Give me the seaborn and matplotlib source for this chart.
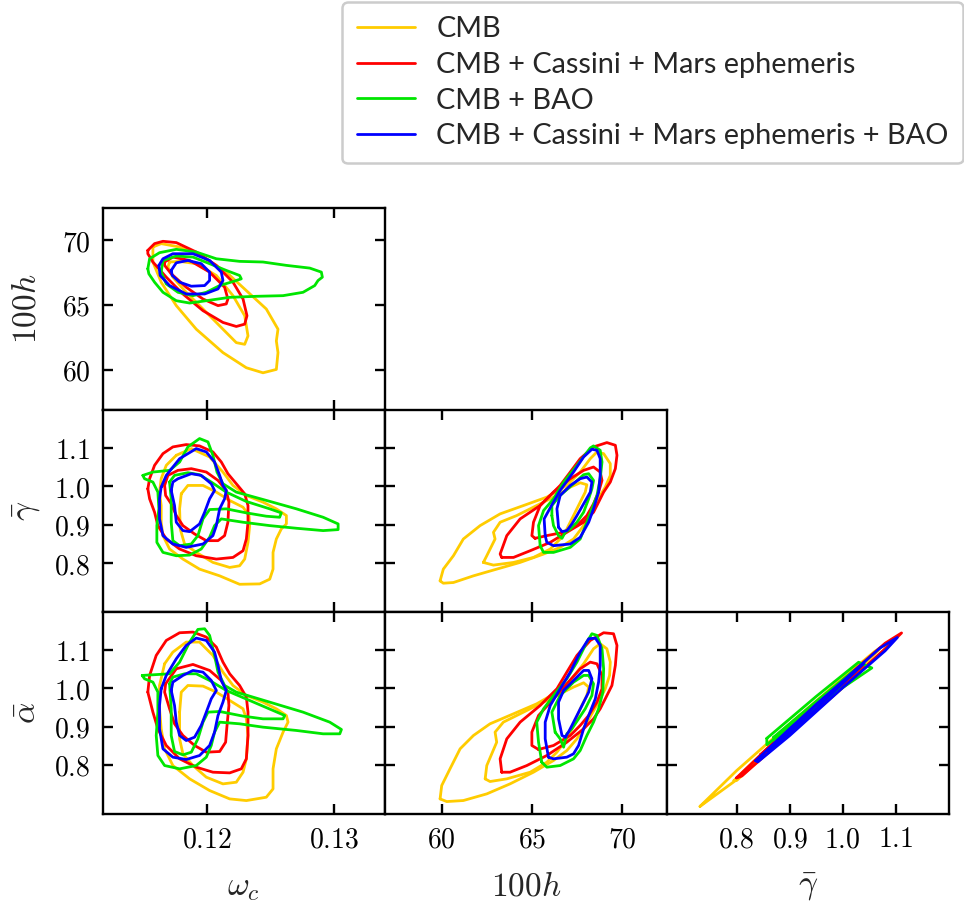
import numpy as np
import matplotlib
matplotlib.use("Agg")
import matplotlib.pyplot as plt
import seaborn as sns
from matplotlib.lines import Line2D

# ---------------- series ----------------
SERIES = ["CMB", "CMB + Cassini + Mars ephemeris", "CMB + BAO",
          "CMB + Cassini + Mars ephemeris + BAO"]
COLORS = ["#ffcc00", "#ff0000", "#00e600", "#0000ff"]

# ---------------- ticks ----------------
wc_ticks = [0.12, 0.13]
wc_ticklabels = ["0.12", "0.13"]
h_ticks = [60, 65, 70]
h_ticklabels = ["60", "65", "70"]
g_ticks = [0.8, 0.9, 1.0, 1.1]
g_ticklabels = ["0.8", "0.9", "1.0", "1.1"]

# ============ contour outlines (68% / 95%) ============
# ---- panel omega_c vs 100h ----
wh_cmb_95 = [(0.11575, 69.48), (0.11640, 69.74), (0.11785, 69.48), (0.11969, 68.70), (0.12152, 67.54),
             (0.12310, 66.11), (0.12467, 64.69), (0.12559, 63.13), (0.12546, 62.22), (0.12559, 61.32),
             (0.12546, 60.02), (0.12441, 59.76), (0.12310, 60.15), (0.12126, 61.32), (0.11916, 63.13),
             (0.11759, 64.95), (0.11640, 66.76), (0.11575, 68.32)]
wh_cmb_68 = [(0.11706, 68.32), (0.11785, 68.37), (0.11916, 68.19), (0.12074, 67.28), (0.12205, 65.72),
             (0.12297, 64.17), (0.12323, 62.61), (0.12297, 61.96), (0.12231, 62.09), (0.12126, 63.13),
             (0.11969, 64.69), (0.11824, 66.11), (0.11732, 67.15), (0.11693, 67.93)]
wh_cas_95 = [(0.11535, 69.22), (0.11588, 69.74), (0.11654, 69.92), (0.11759, 69.82), (0.11916, 69.09),
             (0.12074, 68.06), (0.12205, 66.76), (0.12284, 65.46), (0.12315, 64.17), (0.12297, 63.52),
             (0.12231, 63.34), (0.12126, 63.65), (0.11969, 64.56), (0.11811, 65.85), (0.11680, 67.15),
             (0.11575, 68.32), (0.11535, 68.96)]
wh_cas_68 = [(0.11667, 68.32), (0.11732, 68.70), (0.11864, 68.44), (0.12021, 67.54), (0.12139, 66.37),
             (0.12165, 65.46), (0.12152, 65.08), (0.12087, 64.95), (0.11969, 65.46), (0.11837, 66.37),
             (0.11719, 67.41), (0.11667, 68.06)]
wh_bao_95 = [(0.11535, 67.80), (0.11549, 68.57), (0.11627, 69.04), (0.11759, 69.30), (0.11916, 69.09),
             (0.12074, 68.57), (0.12257, 68.37), (0.12441, 68.32), (0.12625, 68.06), (0.12809, 67.85),
             (0.12900, 67.54), (0.12908, 67.15), (0.12874, 66.89), (0.12848, 66.50), (0.12756, 65.98),
             (0.12599, 65.72), (0.12389, 65.67), (0.12179, 65.59), (0.11995, 65.33), (0.11864, 65.15),
             (0.11759, 65.33), (0.11654, 65.98), (0.11588, 66.76), (0.11543, 67.41)]
wh_bao_68 = [(0.11654, 68.44), (0.11759, 68.78), (0.11890, 68.70), (0.12021, 68.19), (0.12152, 67.67),
             (0.12257, 67.28), (0.12270, 67.02), (0.12205, 66.81), (0.12100, 66.50), (0.11995, 65.98),
             (0.11890, 65.72), (0.11772, 65.98), (0.11680, 66.63), (0.11640, 67.54)]
wh_all_95 = [(0.11622, 68.06), (0.11654, 68.57), (0.11732, 68.96), (0.11890, 68.96), (0.12021, 68.44),
             (0.12113, 67.54), (0.12126, 66.89), (0.12087, 66.24), (0.11982, 65.85), (0.11837, 65.85),
             (0.11706, 66.50), (0.11632, 67.28)]
wh_all_68 = [(0.11719, 67.67), (0.11759, 68.26), (0.11850, 68.44), (0.11955, 68.19), (0.12021, 67.54),
             (0.12021, 66.89), (0.11982, 66.50), (0.11877, 66.45), (0.11785, 66.76), (0.11727, 67.28)]

# ---- panel omega_c vs gamma ----
wg_cmb_95 = [(0.11759, 1.0812), (0.11877, 1.0986), (0.12021, 1.0768), (0.12126, 1.0375), (0.12205, 1.0026),
             (0.12310, 0.9765), (0.12441, 0.9590), (0.12546, 0.9416), (0.12625, 0.9241), (0.12625, 0.9023),
             (0.12585, 0.8892), (0.12546, 0.8630), (0.12520, 0.8281), (0.12520, 0.7845), (0.12494, 0.7583),
             (0.12415, 0.7460), (0.12257, 0.7450), (0.12100, 0.7670), (0.11942, 0.7845), (0.11811, 0.8107),
             (0.11706, 0.8369), (0.11654, 0.8718), (0.11640, 0.9067), (0.11640, 0.9503), (0.11627, 0.9852),
             (0.11640, 1.0201), (0.11680, 1.0550)]
wg_cmb_68 = [(0.11798, 0.9808), (0.11850, 1.0026), (0.11969, 1.0026), (0.12074, 0.9852), (0.12179, 0.9634),
             (0.12284, 0.9459), (0.12331, 0.9241), (0.12336, 0.8979), (0.12323, 0.8543), (0.12297, 0.8107),
             (0.12257, 0.7932), (0.12179, 0.7889), (0.12047, 0.8020), (0.11916, 0.8281), (0.11824, 0.8500),
             (0.11790, 0.8892), (0.11785, 0.9416)]
wg_cas_95 = [(0.11535, 0.9939), (0.11549, 1.0201), (0.11588, 1.0550), (0.11654, 1.0855), (0.11732, 1.1030),
             (0.11837, 1.1091), (0.11942, 1.1056), (0.12047, 1.0899), (0.12113, 1.0637), (0.12165, 1.0332),
             (0.12231, 1.0070), (0.12297, 0.9808), (0.12323, 0.9503), (0.12323, 0.9067), (0.12310, 0.8630),
             (0.12284, 0.8325), (0.12205, 0.8150), (0.12074, 0.8107), (0.11916, 0.8194), (0.11785, 0.8369),
             (0.11680, 0.8630), (0.11614, 0.8979), (0.11588, 0.9328), (0.11549, 0.9677)]
wg_cas_68 = [(0.11667, 1.0026), (0.11693, 1.0288), (0.11772, 1.0419), (0.11877, 1.0463), (0.11995, 1.0375),
             (0.12087, 1.0157), (0.12152, 0.9896), (0.12173, 0.9590), (0.12165, 0.9067), (0.12139, 0.8718),
             (0.12087, 0.8587), (0.11995, 0.8587), (0.11903, 0.8761), (0.11811, 0.8979), (0.11759, 0.9241),
             (0.11719, 0.9547), (0.11675, 0.9765)]
wg_bao_95 = [(0.11496, 1.0288), (0.11575, 1.0375), (0.11706, 1.0419), (0.11785, 1.0637), (0.11850, 1.1030),
             (0.11942, 1.1248), (0.12008, 1.1161), (0.12047, 1.0812), (0.12079, 1.0375), (0.12126, 1.0070),
             (0.12231, 0.9852), (0.12441, 0.9660), (0.12704, 0.9416), (0.12914, 0.9197), (0.13032, 0.9023),
             (0.13032, 0.8875), (0.12914, 0.8849), (0.12704, 0.8910), (0.12494, 0.8979), (0.12284, 0.9067),
             (0.12113, 0.9154), (0.12060, 0.8979), (0.12021, 0.8674), (0.11955, 0.8369), (0.11864, 0.8211),
             (0.11759, 0.8194), (0.11654, 0.8281), (0.11606, 0.8543), (0.11606, 0.8979), (0.11622, 0.9416),
             (0.11614, 0.9852), (0.11575, 1.0114), (0.11509, 1.0201)]
wg_bao_68 = [(0.11706, 1.0114), (0.11745, 1.0288), (0.11850, 1.0358), (0.11942, 1.0306), (0.12034, 1.0114),
             (0.12152, 0.9852), (0.12310, 0.9608), (0.12494, 0.9416), (0.12585, 0.9311), (0.12572, 0.9197),
             (0.12467, 0.9224), (0.12310, 0.9311), (0.12152, 0.9416), (0.12021, 0.9398), (0.11969, 0.9154),
             (0.11929, 0.8718), (0.11877, 0.8500), (0.11785, 0.8456), (0.11732, 0.8587), (0.11719, 0.9067),
             (0.11719, 0.9677)]
wg_all_95 = [(0.11640, 0.9983), (0.11680, 1.0288), (0.11785, 1.0724), (0.11916, 1.0986), (0.11995, 1.0899),
             (0.12060, 1.0637), (0.12100, 1.0288), (0.12126, 1.0026), (0.12152, 0.9896), (0.12139, 0.9677),
             (0.12100, 0.9416), (0.12074, 0.8979), (0.12047, 0.8718), (0.11969, 0.8500), (0.11837, 0.8412),
             (0.11732, 0.8500), (0.11654, 0.8718), (0.11627, 0.9154), (0.11627, 0.9677)]
wg_all_68 = [(0.11719, 0.9896), (0.11732, 1.0114), (0.11772, 1.0201), (0.11877, 1.0332), (0.11955, 1.0288),
             (0.12034, 1.0070), (0.12060, 0.9896), (0.12021, 0.9677), (0.11982, 0.9328), (0.11942, 0.9023),
             (0.11864, 0.8822), (0.11811, 0.8849), (0.11759, 0.9067), (0.11745, 0.9503)]

# ---- panel omega_c vs alpha ----
wa_cmb_95 = [(0.11667, 1.0649), (0.11732, 1.0956), (0.11837, 1.1220), (0.11942, 1.1220), (0.12047, 1.0869),
             (0.12126, 1.0430), (0.12205, 1.0079), (0.12310, 0.9816), (0.12441, 0.9641), (0.12546, 0.9466),
             (0.12625, 0.9290), (0.12638, 0.9115), (0.12599, 0.8852), (0.12546, 0.8413), (0.12520, 0.7887),
             (0.12520, 0.7360), (0.12467, 0.7141), (0.12310, 0.7053), (0.12179, 0.7097), (0.12021, 0.7317),
             (0.11864, 0.7624), (0.11732, 0.7974), (0.11667, 0.8413), (0.11640, 0.8939), (0.11627, 0.9466),
             (0.11627, 1.0079)]
wa_cmb_68 = [(0.11785, 0.9378), (0.11798, 0.9904), (0.11850, 1.0079), (0.11969, 1.0062), (0.12074, 0.9904),
             (0.12179, 0.9685), (0.12284, 0.9466), (0.12310, 0.9202), (0.12323, 0.8764), (0.12310, 0.8150),
             (0.12284, 0.7799), (0.12231, 0.7536), (0.12126, 0.7492), (0.11995, 0.7668), (0.11890, 0.7974),
             (0.11811, 0.8281), (0.11785, 0.8676)]
wa_cas_95 = [(0.11535, 0.9904), (0.11549, 1.0343), (0.11601, 1.0869), (0.11680, 1.1263), (0.11785, 1.1465),
             (0.11890, 1.1483), (0.11995, 1.1351), (0.12074, 1.1088), (0.12126, 1.0693), (0.12179, 1.0386),
             (0.12257, 1.0079), (0.12310, 0.9773), (0.12323, 0.9378), (0.12323, 0.8764), (0.12310, 0.8150),
             (0.12270, 0.7887), (0.12179, 0.7781), (0.12047, 0.7799), (0.11916, 0.7931), (0.11785, 0.8150),
             (0.11680, 0.8501), (0.11614, 0.8939), (0.11575, 0.9378)]
wa_cas_68 = [(0.11675, 1.0123), (0.11759, 1.0518), (0.11890, 1.0632), (0.12021, 1.0474), (0.12113, 1.0211),
             (0.12165, 0.9904), (0.12173, 0.9553), (0.12158, 0.9027), (0.12147, 0.8588), (0.12100, 0.8343),
             (0.11995, 0.8325), (0.11903, 0.8501), (0.11811, 0.8764), (0.11745, 0.9071), (0.11706, 0.9466),
             (0.11667, 0.9904)]
wa_bao_95 = [(0.11491, 1.0343), (0.11706, 1.0386), (0.11785, 1.0693), (0.11864, 1.1220), (0.11929, 1.1553),
             (0.11982, 1.1570), (0.12021, 1.1395), (0.12060, 1.0869), (0.12087, 1.0430), (0.12139, 1.0079),
             (0.12231, 0.9904), (0.12494, 0.9641), (0.12756, 0.9378), (0.12966, 0.9115), (0.13058, 0.8922),
             (0.13045, 0.8808), (0.12914, 0.8808), (0.12704, 0.8896), (0.12441, 0.8983), (0.12257, 0.9071),
             (0.12100, 0.9115), (0.12060, 0.8852), (0.12034, 0.8501), (0.11995, 0.8194), (0.11916, 0.7974),
             (0.11785, 0.7887), (0.11667, 0.7974), (0.11614, 0.8238), (0.11601, 0.8764), (0.11614, 0.9378),
             (0.11614, 0.9904), (0.11575, 1.0167), (0.11509, 1.0255)]
wa_bao_68 = [(0.11706, 1.0123), (0.11732, 1.0299), (0.11824, 1.0386), (0.11916, 1.0386), (0.12021, 1.0211),
             (0.12152, 0.9948), (0.12336, 0.9685), (0.12520, 0.9422), (0.12612, 0.9290), (0.12599, 0.9202),
             (0.12441, 0.9202), (0.12284, 0.9273), (0.12100, 0.9395), (0.12008, 0.9378), (0.11969, 0.9115),
             (0.11929, 0.8676), (0.11877, 0.8325), (0.11811, 0.8255), (0.11745, 0.8343), (0.11719, 0.8764),
             (0.11719, 0.9466)]
wa_all_95 = [(0.11640, 0.9992), (0.11680, 1.0343), (0.11759, 1.0781), (0.11837, 1.1132), (0.11916, 1.1325),
             (0.11995, 1.1263), (0.12060, 1.0956), (0.12087, 1.0606), (0.12113, 1.0211), (0.12152, 0.9948),
             (0.12126, 0.9641), (0.12087, 0.9290), (0.12060, 0.8852), (0.12021, 0.8501), (0.11942, 0.8238),
             (0.11837, 0.8132), (0.11732, 0.8194), (0.11654, 0.8413), (0.11627, 0.8939), (0.11627, 0.9553)]
wa_all_68 = [(0.11719, 0.9948), (0.11732, 1.0167), (0.11811, 1.0343), (0.11890, 1.0474), (0.11969, 1.0430),
             (0.12034, 1.0211), (0.12074, 0.9948), (0.12034, 0.9729), (0.11995, 0.9378), (0.11955, 0.9027),
             (0.11903, 0.8720), (0.11837, 0.8632), (0.11785, 0.8764), (0.11759, 0.9115), (0.11745, 0.9553)]

# ---- panel 100h vs gamma ----
hg_cmb_95 = [(59.91, 0.7539), (60.09, 0.7845), (60.65, 0.8194), (61.20, 0.8630), (62.13, 0.8979),
             (63.24, 0.9285), (64.54, 0.9503), (65.83, 0.9721), (66.94, 1.0026), (67.68, 1.0375),
             (68.24, 1.0724), (68.61, 1.0899), (68.98, 1.0855), (69.35, 1.0594), (69.35, 1.0288),
             (69.07, 0.9983), (68.79, 0.9765), (68.42, 0.9416), (67.87, 0.8979), (67.31, 0.8630),
             (66.57, 0.8412), (65.65, 0.8238), (64.35, 0.8020), (63.05, 0.7845), (61.76, 0.7670),
             (60.65, 0.7496), (60.09, 0.7478)]
hg_cmb_68 = [(62.31, 0.8019), (62.50, 0.8194), (62.96, 0.8630), (62.87, 0.8805), (63.24, 0.9067),
             (64.16, 0.9241), (65.27, 0.9503), (66.39, 0.9765), (67.13, 0.9983), (67.68, 1.0096),
             (68.05, 1.0044), (67.96, 0.9852), (67.68, 0.9590), (67.31, 0.9241), (66.94, 0.8892),
             (66.57, 0.8630), (66.02, 0.8369), (65.09, 0.8150), (63.98, 0.8019), (62.87, 0.7950)]
hg_cas_95 = [(63.33, 0.8150), (63.24, 0.8238), (63.61, 0.8718), (64.35, 0.9154), (65.46, 0.9503),
             (66.57, 1.0026), (67.13, 1.0375), (67.68, 1.0724), (68.42, 1.1030), (69.16, 1.1143),
             (69.63, 1.1073), (69.72, 1.0812), (69.63, 1.0463), (69.35, 1.0114), (68.98, 0.9852),
             (68.70, 0.9590), (68.42, 0.9328), (67.87, 0.9067), (66.94, 0.8805), (66.02, 0.8543),
             (64.91, 0.8325), (63.98, 0.8150)]
hg_cas_68 = [(65.18, 0.8648), (65.00, 0.8718), (65.09, 0.9067), (65.46, 0.9503), (66.20, 0.9852),
             (67.13, 1.0201), (67.87, 1.0419), (68.42, 1.0506), (68.79, 1.0375), (68.89, 1.0157),
             (68.70, 0.9852), (68.42, 0.9547), (68.05, 0.9241), (67.50, 0.8979), (66.76, 0.8805),
             (65.83, 0.8718)]
hg_bao_95 = [(65.46, 0.8456), (65.37, 0.8979), (65.65, 0.9372), (66.20, 0.9677), (66.76, 1.0114),
             (67.50, 1.0550), (68.24, 1.1004), (68.42, 1.1056), (68.79, 1.0942), (68.89, 1.0637),
             (68.79, 1.0201), (68.61, 0.9765), (68.33, 0.9416), (68.05, 0.9067), (67.68, 0.8630),
             (67.13, 0.8412), (66.20, 0.8281), (65.65, 0.8281)]
hg_bao_68 = [(66.11, 0.9241), (66.11, 0.9503), (66.57, 0.9765), (67.31, 1.0070), (67.87, 1.0306),
             (68.15, 1.0332), (68.42, 1.0157), (68.33, 0.9939), (68.15, 0.9677), (67.87, 0.9328),
             (67.50, 0.9067), (67.13, 0.8892), (66.85, 0.8805), (66.67, 0.8648), (66.48, 0.8718),
             (66.20, 0.8979)]
hg_all_95 = [(65.74, 0.8718), (65.68, 0.9154), (66.09, 0.9503), (66.57, 0.9896), (67.31, 1.0375),
             (67.87, 1.0768), (68.33, 1.0969), (68.61, 1.0942), (68.79, 1.0724), (68.79, 1.0288),
             (68.70, 0.9852), (68.42, 0.9416), (68.15, 0.9067), (67.68, 0.8674), (67.13, 0.8500),
             (66.20, 0.8456), (65.83, 0.8543)]
hg_all_68 = [(66.48, 0.8936), (66.39, 0.9416), (66.57, 0.9765), (67.13, 1.0026), (67.68, 1.0201),
             (68.05, 1.0245), (68.33, 1.0114), (68.24, 0.9852), (67.87, 0.9547), (67.50, 0.9241),
             (67.22, 0.9023), (66.94, 0.8849), (66.67, 0.8822)]

# ---- panel 100h vs alpha ----
ha_cmb_95 = [(59.91, 0.7097), (60.00, 0.7448), (60.46, 0.7887), (61.02, 0.8413), (61.76, 0.8764),
             (62.68, 0.9071), (63.98, 0.9334), (65.27, 0.9597), (66.39, 0.9904), (67.13, 1.0211),
             (67.87, 1.0649), (68.42, 1.1044), (68.79, 1.1176), (69.16, 1.1044), (69.35, 1.0693),
             (69.31, 1.0343), (69.07, 0.9992), (68.70, 0.9641), (68.33, 0.9334), (67.96, 0.9027),
             (67.50, 0.8676), (66.94, 0.8369), (66.20, 0.8106), (65.09, 0.7799), (63.79, 0.7492),
             (62.50, 0.7229), (61.20, 0.7054), (60.28, 0.7027)]
ha_cmb_68 = [(62.41, 0.7624), (62.50, 0.7974), (63.05, 0.8588), (62.96, 0.8852), (63.42, 0.9115),
             (64.35, 0.9334), (65.46, 0.9597), (66.57, 0.9860), (67.31, 1.0036), (67.87, 1.0150),
             (68.15, 1.0036), (68.05, 0.9816), (67.68, 0.9466), (67.31, 0.9027), (66.94, 0.8676),
             (66.39, 0.8325), (65.83, 0.8062), (64.91, 0.7799), (63.61, 0.7624), (62.68, 0.7554)]
ha_cas_95 = [(63.33, 0.7799), (63.24, 0.8150), (63.61, 0.8676), (64.35, 0.9115), (65.46, 0.9553),
             (66.39, 0.9992), (66.94, 1.0430), (67.50, 1.0869), (68.24, 1.1263), (68.98, 1.1465),
             (69.53, 1.1439), (69.72, 1.1132), (69.63, 1.0606), (69.44, 1.0079), (69.07, 0.9729),
             (68.79, 0.9466), (68.42, 0.9202), (67.87, 0.8939), (66.94, 0.8588), (65.83, 0.8238),
             (64.72, 0.7974), (63.79, 0.7799)]
ha_cas_68 = [(65.37, 0.8396), (65.00, 0.8501), (65.00, 0.8852), (65.37, 0.9290), (66.20, 0.9729),
             (66.94, 1.0123), (67.68, 1.0518), (68.24, 1.0693), (68.61, 1.0649), (68.89, 1.0343),
             (68.89, 0.9992), (68.61, 0.9641), (68.15, 0.9290), (67.68, 0.9027), (67.13, 0.8764),
             (66.20, 0.8501)]
ha_bao_95 = [(65.55, 0.8062), (65.37, 0.8588), (65.27, 0.9115), (65.65, 0.9466), (66.20, 0.9816),
             (66.94, 1.0255), (67.50, 1.0693), (68.05, 1.1220), (68.33, 1.1439), (68.61, 1.1395),
             (68.89, 1.1044), (68.98, 1.0518), (68.94, 0.9904), (68.70, 0.9466), (68.42, 0.9115),
             (68.05, 0.8764), (67.68, 0.8369), (67.31, 0.8150), (66.57, 0.7974), (65.83, 0.7931)]
ha_bao_68 = [(66.29, 0.8852), (66.11, 0.9378), (66.57, 0.9816), (67.31, 1.0167), (67.87, 1.0343),
             (68.15, 1.0343), (68.42, 1.0123), (68.33, 0.9816), (67.96, 0.9466), (67.59, 0.9202),
             (67.22, 0.8939), (66.94, 0.8808), (66.76, 0.8457), (66.57, 0.8676)]
ha_all_95 = [(65.92, 0.8194), (65.74, 0.8676), (65.74, 0.9115), (66.02, 0.9553), (66.57, 0.9992),
             (67.13, 1.0430), (67.68, 1.0956), (68.15, 1.1307), (68.52, 1.1325), (68.79, 1.1132),
             (68.79, 1.0606), (68.70, 1.0167), (68.52, 0.9729), (68.15, 0.9290), (67.87, 0.8939),
             (67.59, 0.8501), (67.31, 0.8282), (66.94, 0.8194), (66.20, 0.8150)]
ha_all_68 = [(66.85, 0.8720), (66.67, 0.8764), (66.48, 0.9202), (66.48, 0.9641), (66.76, 0.9948),
             (67.50, 1.0299), (67.87, 1.0474), (68.15, 1.0474), (68.33, 1.0255), (68.15, 0.9904),
             (67.78, 0.9553), (67.50, 0.9290), (67.22, 0.9027), (67.03, 0.8852)]

# ---- panel gamma vs alpha ----
ga_cmb_95 = [(0.731, 0.690), (0.800, 0.784), (0.900, 0.907), (1.000, 1.027), (1.060, 1.097),
             (1.097, 1.132), (1.080, 1.104), (1.000, 1.002), (0.900, 0.881), (0.800, 0.760)]
ga_cmb_68 = [(0.795, 0.758), (0.900, 0.899), (1.000, 1.018), (1.070, 1.105), (1.000, 1.008),
             (0.900, 0.887), (0.800, 0.758)]
ga_cas_95 = [(0.800, 0.765), (0.900, 0.898), (1.000, 1.021), (1.080, 1.119), (1.111, 1.146),
             (1.090, 1.117), (1.000, 1.003), (0.900, 0.881), (0.810, 0.770)]
ga_cas_68 = [(0.845, 0.826), (0.950, 0.957), (1.040, 1.063), (0.950, 0.944), (0.850, 0.822)]
ga_bao_95 = [(0.857, 0.869), (0.950, 0.979), (1.030, 1.069), (1.055, 1.054), (0.950, 0.955),
             (0.857, 0.852)]
ga_bao_68 = [(0.870, 0.872), (0.950, 0.966), (1.020, 1.046), (0.950, 0.954), (0.870, 0.864)]
ga_all_95 = [(0.836, 0.810), (0.900, 0.894), (1.000, 1.019), (1.070, 1.106), (1.103, 1.134),
             (1.080, 1.099), (1.000, 1.002), (0.900, 0.876), (0.840, 0.807)]
ga_all_68 = [(0.860, 0.840), (0.950, 0.958), (1.040, 1.066), (0.950, 0.947), (0.860, 0.834)]

# ---------------- layout ----------------
sns.set_style("ticks")
plt.rcParams["mathtext.fontset"] = "cm"
plt.rcParams["font.family"] = ["DejaVu Sans"]

fig, axes = plt.subplots(3, 3, figsize=(9.64, 9.02), dpi=100)
fig.subplots_adjust(left=102.7 / 964, right=949.3 / 964, top=1 - 208.3 / 902,
                    bottom=1 - 814 / 902, wspace=0, hspace=0)

panels = {
    (0, 0): [(0, wh_cmb_95), (0, wh_cmb_68), (1, wh_cas_95), (1, wh_cas_68),
             (2, wh_bao_95), (2, wh_bao_68), (3, wh_all_95), (3, wh_all_68)],
    (1, 0): [(0, wg_cmb_95), (0, wg_cmb_68), (1, wg_cas_95), (1, wg_cas_68),
             (2, wg_bao_95), (2, wg_bao_68), (3, wg_all_95), (3, wg_all_68)],
    (2, 0): [(0, wa_cmb_95), (0, wa_cmb_68), (1, wa_cas_95), (1, wa_cas_68),
             (2, wa_bao_95), (2, wa_bao_68), (3, wa_all_95), (3, wa_all_68)],
    (1, 1): [(0, hg_cmb_95), (0, hg_cmb_68), (1, hg_cas_95), (1, hg_cas_68),
             (2, hg_bao_95), (2, hg_bao_68), (3, hg_all_95), (3, hg_all_68)],
    (2, 1): [(0, ha_cmb_95), (0, ha_cmb_68), (1, ha_cas_95), (1, ha_cas_68),
             (2, ha_bao_95), (2, ha_bao_68), (3, ha_all_95), (3, ha_all_68)],
    (2, 2): [(0, ga_cmb_95), (0, ga_cmb_68), (1, ga_cas_95), (1, ga_cas_68),
             (2, ga_bao_95), (2, ga_bao_68), (3, ga_all_95), (3, ga_all_68)],
}

col_lim = [(0.1118, 0.1340), (56.85, 72.5), (0.669, 1.201)]
row_lim = [(56.87, 72.47), (0.6725, 1.1987), (0.670, 1.2008)]
col_ticks = [(wc_ticks, wc_ticklabels), (h_ticks, h_ticklabels), (g_ticks, g_ticklabels)]
row_ticks = [(h_ticks, h_ticklabels), (g_ticks, g_ticklabels), (g_ticks, g_ticklabels)]
col_names = [r"$\omega_c$", r"$100h$", r"$\bar{\gamma}$"]
row_names = [r"$100h$", r"$\bar{\gamma}$", r"$\bar{\alpha}$"]

for (r, c) in [(0, 1), (0, 2), (1, 2)]:
    axes[r, c].set_visible(False)

LW = 2.0
TICK_FS = 20
for (r, c), contours in panels.items():
    ax = axes[r, c]
    for ci, pts in contours:
        arr = np.array(list(pts) + [pts[0]])
        sns.lineplot(x=arr[:, 0], y=arr[:, 1], sort=False, estimator=None,
                     color=COLORS[ci], linewidth=LW, ax=ax, solid_joinstyle="round",
                     solid_capstyle="round")
    ax.set_xlim(*col_lim[c])
    ax.set_ylim(*row_lim[r])
    xt, xl = col_ticks[c]
    yt, yl = row_ticks[r]
    ax.set_xticks(xt)
    ax.set_yticks(yt)
    ax.minorticks_off()
    ax.tick_params(which="major", direction="in", length=7.5, width=1.7,
                   top=True, right=True, labelsize=TICK_FS, colors="black")
    ax.tick_params(axis="x", pad=8)
    ax.tick_params(axis="y", pad=9)
    if r == 2:
        ax.set_xticklabels(["$%s$" % s for s in xl])
        ax.set_xlabel(col_names[c], fontsize=24, labelpad=12)
    else:
        ax.set_xticklabels([])
        ax.set_xlabel("")
    if c == 0:
        ax.set_yticklabels(["$%s$" % s for s in yl])
        ax.set_ylabel(row_names[r], fontsize=24, labelpad=8)
    else:
        ax.set_yticklabels([])
        ax.set_ylabel("")
    for sp in ax.spines.values():
        sp.set_visible(True)
        sp.set_linewidth(1.7)
        sp.set_color("black")

fig.align_ylabels(axes[:, 0])
fig.align_xlabels(axes[2, :])

handles = [Line2D([0], [0], color=col, lw=LW) for col in COLORS]
leg = fig.legend(handles, SERIES, loc="upper right", bbox_to_anchor=(963 / 964, 1 - 2 / 902),
                 borderaxespad=0.0, frameon=True, fancybox=True, framealpha=1.0,
                 edgecolor="#cccccc", prop={"family": ["Lato", "DejaVu Sans"], "size": 20.8},
                 handlelength=2.0, handletextpad=0.75, labelspacing=0.33, borderpad=0.5)
leg.get_frame().set_linewidth(1.8)

fig.savefig("out.png", dpi=100)
